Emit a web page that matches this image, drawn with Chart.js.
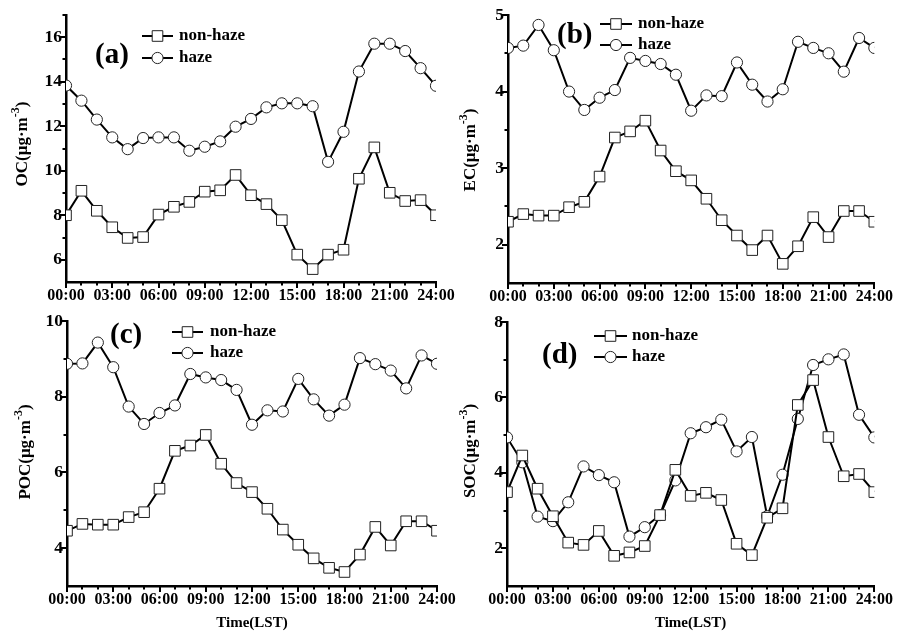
<!DOCTYPE html>
<html>
<head>
<meta charset="utf-8">
<script src="https://cdn.jsdelivr.net/npm/chart.js@4.4.0/dist/chart.umd.min.js"></script>
<style>
  body { margin: 0; background: #fff; width: 897px; height: 635px; overflow: hidden; position: relative; }
  canvas { position: absolute; }
</style>
</head>
<body>
<canvas id="panelA"></canvas>
<canvas id="panelB"></canvas>
<canvas id="panelC"></canvas>
<canvas id="panelD"></canvas>
<script>
// hourly means, 00:00 .. 24:00
const hours = [0, 1, 2, 3, 4, 5, 6, 7, 8, 9, 10, 11, 12, 13, 14, 15, 16, 17, 18, 19, 20, 21, 22, 23, 24];
const timeTickValues = [0, 3, 6, 9, 12, 15, 18, 21, 24];
const timeLabels = ['00:00', '03:00', '06:00', '09:00', '12:00', '15:00', '18:00', '21:00', '24:00'];

const ocNonHaze = [8.0, 9.1, 8.2, 7.46, 6.98, 7.02, 8.03, 8.38, 8.6, 9.06, 9.12, 9.81, 8.9, 8.5, 7.78, 6.23, 5.58, 6.23, 6.45, 9.64, 11.05, 9.01, 8.64, 8.68, 8.0];
const ocHaze = [13.83, 13.15, 12.3, 11.5, 10.97, 11.47, 11.5, 11.5, 10.9, 11.08, 11.32, 11.98, 12.33, 12.85, 13.03, 13.03, 12.9, 10.4, 11.75, 14.46, 15.71, 15.71, 15.38, 14.61, 13.82];
const ecNonHaze = [2.30, 2.40, 2.38, 2.38, 2.49, 2.56, 2.89, 3.40, 3.48, 3.62, 3.23, 2.96, 2.84, 2.60, 2.32, 2.12, 1.93, 2.12, 1.75, 1.98, 2.36, 2.10, 2.44, 2.44, 2.30];
const ecHaze = [4.57, 4.60, 4.87, 4.54, 4.0, 3.76, 3.92, 4.02, 4.44, 4.40, 4.36, 4.22, 3.75, 3.95, 3.94, 4.38, 4.09, 3.87, 4.03, 4.65, 4.57, 4.50, 4.26, 4.70, 4.57];
const pocNonHaze = [4.46, 4.64, 4.62, 4.62, 4.82, 4.95, 5.57, 6.57, 6.71, 6.99, 6.23, 5.72, 5.48, 5.04, 4.49, 4.09, 3.73, 3.48, 3.37, 3.83, 4.56, 4.07, 4.71, 4.71, 4.46];
const pocHaze = [8.87, 8.88, 9.43, 8.78, 7.74, 7.28, 7.57, 7.77, 8.60, 8.51, 8.44, 8.18, 7.26, 7.64, 7.61, 8.47, 7.93, 7.50, 7.79, 9.02, 8.86, 8.69, 8.22, 9.09, 8.87];
const socNonHaze = [3.49, 4.46, 3.58, 2.85, 2.15, 2.09, 2.46, 1.80, 1.89, 2.06, 2.88, 4.08, 3.39, 3.47, 3.28, 2.12, 1.82, 2.81, 3.06, 5.80, 6.46, 4.95, 3.91, 3.97, 3.49];
const socHaze = [4.94, 4.28, 2.84, 2.72, 3.22, 4.17, 3.94, 3.75, 2.31, 2.56, 2.88, 3.80, 5.05, 5.21, 5.41, 4.57, 4.95, 2.85, 3.95, 5.43, 6.86, 7.01, 7.14, 5.54, 4.94];

const ocTicks = [6, 8, 10, 12, 14, 16];
const ecTicks = [2, 3, 4, 5];
const pocTicks = [4, 6, 8, 10];
const socTicks = [2, 4, 6, 8];

const seriesNames = ['non-haze', 'haze'];
const SERIF = '"Liberation Serif", "Times New Roman", serif';

// draws tick marks, axis titles, the panel letter and the in-plot legend
const decor = {
  id: 'decor',
  afterDraw(chart, args, o) {
    const ctx = chart.ctx;
    const xs = chart.scales.x, ys = chart.scales.y, a = chart.chartArea;
    ctx.save();
    ctx.strokeStyle = '#000';
    ctx.lineWidth = 2;
    ctx.beginPath();
    // y ticks (major + half-step minor)
    const yStep = o.yTicks[1] - o.yTicks[0];
    for (let v = o.yTicks[0] - yStep / 2; v < ys.max + 1e-6; v += yStep / 2) {
      if (v <= ys.min + 1e-6 || v > ys.max + 1e-6) continue;
      const major = o.yTicks.some(t => Math.abs(t - v) < 1e-6);
      const py = Math.round(ys.getPixelForValue(v));
      ctx.moveTo(a.left, py);
      ctx.lineTo(a.left - (major ? 6 : 3.5), py);
    }
    // x ticks, every hour, labelled every 3 h
    hours.forEach(h => {
      const px = Math.round(xs.getPixelForValue(h));
      ctx.moveTo(px, a.bottom);
      ctx.lineTo(px, a.bottom + (h % 3 === 0 ? 6 : 3.5));
    });
    ctx.stroke();

    ctx.fillStyle = '#000';
    // y axis title with superscript
    ctx.save();
    ctx.translate(o.yTitlePos[0], o.yTitlePos[1]);
    ctx.rotate(-Math.PI / 2);
    const main = 'bold 17px ' + SERIF, sup = 'bold 12px ' + SERIF;
    const t1 = o.yTitle + '(\u03bcg\u00b7m', t2 = '-3', t3 = ')';
    ctx.font = main; const w1 = ctx.measureText(t1).width, w3 = ctx.measureText(t3).width;
    ctx.font = sup; const w2 = ctx.measureText(t2).width;
    let sx = -(w1 + w2 + w3) / 2;
    ctx.textBaseline = 'alphabetic';
    ctx.font = main; ctx.fillText(t1, sx, 6); sx += w1;
    ctx.font = sup; ctx.fillText(t2, sx, -2); sx += w2;
    ctx.font = main; ctx.fillText(t3, sx, 6);
    ctx.restore();

    if (o.xTitle) {
      ctx.font = 'bold 15px ' + SERIF;
      ctx.textAlign = 'center';
      ctx.textBaseline = 'middle';
      ctx.fillText(o.xTitle, (a.left + a.right) / 2, o.xTitleY);
    }

    // panel letter
    ctx.font = 'bold 29px ' + SERIF;
    ctx.textAlign = 'left';
    ctx.textBaseline = 'middle';
    ctx.fillText(o.label, o.labelPos[0], o.labelPos[1]);

    // legend
    ctx.font = 'bold 17px ' + SERIF;
    chart.data.datasets.forEach((ds, i) => {
      const ly = o.legendY[i];
      ctx.strokeStyle = '#000';
      ctx.lineWidth = 2;
      ctx.beginPath();
      ctx.moveTo(o.legendX[0], ly);
      ctx.lineTo(o.legendX[1], ly);
      ctx.stroke();
      ctx.fillStyle = '#fff';
      ctx.strokeStyle = ds.pointBorderColor;
      ctx.lineWidth = 1;
      Chart.helpers.drawPoint(ctx, { pointStyle: ds.pointStyle, radius: ds.pointRadius, borderWidth: 1, rotation: 0 },
        (o.legendX[0] + o.legendX[1]) / 2, ly);
      ctx.fillStyle = '#000';
      ctx.fillText(ds.label, o.legendX[2], ly);
    });
    ctx.restore();
  }
};

function makePanel(id, p, nonHaze, haze, yTicks) {
  const cv = document.getElementById(id);
  cv.width = p.w; cv.height = p.h;
  cv.style.left = p.left + 'px'; cv.style.top = p.top + 'px';
  const rel = (x, y) => [x - p.left, y - p.top];
  const mk = (vals, style, r) => ({
    label: style === 'rect' ? seriesNames[0] : seriesNames[1],
    data: hours.map((h, i) => ({ x: h, y: vals[i] })),
    borderColor: '#000',
    borderWidth: 2,
    pointStyle: style,
    pointRadius: r,
    pointBackgroundColor: '#fff',
    pointBorderColor: '#222',
    pointBorderWidth: 1,
    tension: 0
  });
  new Chart(cv, {
    type: 'line',
    data: { datasets: [mk(nonHaze, 'rect', 7.5), mk(haze, 'circle', 5.6)] },
    plugins: [decor],
    options: {
      responsive: false,
      animation: false,
      events: [],
      layout: { padding: { left: 0, top: p.area[1] - p.top, right: p.left + p.w - p.area[2], bottom: 0 } },
      scales: {
        x: {
          type: 'linear', min: 0, max: 24,
          afterBuildTicks: s => { s.ticks = timeTickValues.map(v => ({ value: v })); },
          afterFit: s => { s.height = p.top + p.h - p.area[3]; },
          grid: { display: false, drawTicks: false },
          border: { display: true, color: '#000', width: 2.5 },
          ticks: { padding: 4, color: '#000', maxRotation: 0, autoSkip: false,
                   font: { family: SERIF, size: 16, weight: 'bold' },
                   callback: (v, i) => timeLabels[i] }
        },
        y: {
          min: p.yMin, max: p.yMax,
          afterBuildTicks: s => { s.ticks = yTicks.map(v => ({ value: v })); },
          afterFit: s => { s.width = p.area[0] - p.left; },
          grid: { display: false, drawTicks: false },
          border: { display: true, color: '#000', width: 2.5 },
          ticks: { padding: 4, color: '#000', font: { family: SERIF, size: 17.5, weight: 'bold' },
                   callback: v => String(v) }
        }
      },
      plugins: {
        legend: { display: false },
        tooltip: { enabled: false },
        decor: {
          yTicks: yTicks,
          yTitle: p.yTitle,
          yTitlePos: rel(p.yTitlePos[0], p.yTitlePos[1]),
          xTitle: p.xTitle,
          xTitleY: p.xTitle ? p.xTitleY - p.top : 0,
          label: p.label,
          labelPos: rel(p.labelPos[0], p.labelPos[1]),
          legendX: p.legendX.map(x => x - p.left),
          legendY: p.legendY.map(y => y - p.top)
        }
      }
    }
  });
}

makePanel('panelA', {
  left: 0, top: 0, w: 470, h: 310, area: [66, 15, 436, 282], yMin: 5, yMax: 17,
  yTitle: 'OC', yTitlePos: [21, 144], label: '(a)', labelPos: [95, 56],
  legendX: [142, 173, 179], legendY: [36, 58]
}, ocNonHaze, ocHaze, ocTicks);

makePanel('panelB', {
  left: 450, top: 0, w: 447, h: 310, area: [508, 15, 877, 283], yMin: 1.5, yMax: 5,
  yTitle: 'EC', yTitlePos: [469, 150], label: '(b)', labelPos: [557, 36],
  legendX: [600, 632, 638], legendY: [24, 45]
}, ecNonHaze, ecHaze, ecTicks);

makePanel('panelC', {
  left: 0, top: 300, w: 470, h: 335, area: [67, 321, 437, 586], yMin: 3, yMax: 10,
  yTitle: 'POC', yTitlePos: [24, 452], label: '(c)', labelPos: [110, 336],
  legendX: [172, 203, 210], legendY: [332, 353], xTitle: 'Time(LST)', xTitleY: 623
}, pocNonHaze, pocHaze, pocTicks);

makePanel('panelD', {
  left: 450, top: 300, w: 447, h: 335, area: [507, 322, 877, 586], yMin: 1, yMax: 8,
  yTitle: 'SOC', yTitlePos: [469, 451], label: '(d)', labelPos: [542, 356],
  legendX: [594, 627, 632], legendY: [336, 357], xTitle: 'Time(LST)', xTitleY: 623
}, socNonHaze, socHaze, socTicks);
</script>
</body>
</html>
